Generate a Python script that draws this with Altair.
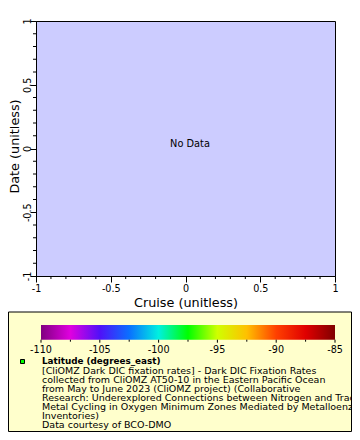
import altair as alt
import pandas as pd

FONT = "DejaVu Sans"

# ---- data ----
axis_major = [-1, -0.5, 0, 0.5, 1]
axis_minor = [-0.9, -0.8, -0.7, -0.6, -0.4, -0.3, -0.2, -0.1,
              0.1, 0.2, 0.3, 0.4, 0.6, 0.7, 0.8, 0.9]
no_data_label = ["No Data"]
cbar_major = [-110, -105, -100, -95, -90, -85]
cbar_labels = ["-110", "-105", "-100", "-95", "-90", "-85"]
cbar_minor = [-107.5, -102.5, -97.5, -92.5, -87.5]
cbar_stop_values = [-110, -107.5, -105, -102.5, -100, -97.5, -95, -92.5, -90, -87.5, -85]
cbar_stop_colors = ["#800080", "#e000e0", "#5010f8", "#0a70ff", "#00f0e0", "#00ff00",
                    "#d0ff00", "#ffc000", "#ff4000", "#e00000", "#800000"]
legend_title = "Latitude (degrees_east)"
legend_lines = [
    "[CliOMZ Dark DIC fixation rates] - Dark DIC Fixation Rates",
    "collected from CliOMZ AT50-10 in the Eastern Pacific Ocean",
    "from May to June 2023 (CliOMZ project) (Collaborative",
    "Research: Underexplored Connections between Nitrogen and Trace",
    "Metal Cycling in Oxygen Minimum Zones Mediated by Metalloenzyme",
    "Inventories)",
    "Data courtesy of BCO-DMO",
]

W, H = 299, 255
main_scale = alt.Scale(domain=[-1, 1], nice=False, zero=False)
cmin, cmax = cbar_stop_values[0], cbar_stop_values[-1]
cbar_scale = alt.Scale(domain=[cmin, cmax], range=[5, 299], nice=False, zero=False)


def main_axis(title, **kw):
    return alt.Axis(
        title=title,
        values=axis_major,
        labelExpr="toString(datum.value)",
        tickSize=6,
        tickColor="black",
        tickWidth=1,
        domainColor="black",
        labelColor="black",
        labelFont=FONT,
        labelFontSize=9.6,
        labelFlush=False,
        labelOverlap=False,
        titleFont=FONT,
        titleFontSize=12.8,
        titleFontWeight="normal",
        titleColor="black",
        grid=False,
        **kw,
    )


df_main = pd.DataFrame({"x": [0.0], "y": [0.0], "label": no_data_label})

nodata = alt.Chart(df_main).mark_text(
    font=FONT, fontSize=9.8, color="black", baseline="alphabetic", dx=4.5, dy=-1.5
).encode(
    x=alt.X("x:Q", scale=main_scale,
            axis=main_axis("Cruise (unitless)", labelPadding=1, labelBaseline="top",
                           titleBaseline="alphabetic", titleY=30)),
    y=alt.Y("y:Q", scale=main_scale,
            axis=main_axis("Date (unitless)", labelAngle=270, labelAlign="center",
                           labelBaseline="alphabetic", labelPadding=0,
                           titleAngle=270, titleBaseline="alphabetic", titleX=-17.5,
                           titleY=125)),
    text="label:N",
)

df_minor = pd.DataFrame({"v": axis_minor})
x_minor = alt.Chart(df_minor).mark_rule(color="black", strokeWidth=1).encode(
    x=alt.X("v:Q", scale=main_scale, axis=None),
    y=alt.value(H), y2=alt.value(H + 3),
)
y_minor = alt.Chart(df_minor).mark_rule(color="black", strokeWidth=1).encode(
    y=alt.Y("v:Q", scale=main_scale, axis=None),
    x=alt.value(0), x2=alt.value(-3),
)

one = pd.DataFrame({"a": [0]})

box = alt.Chart(one).mark_rect(fill="#ffffcc", stroke="black", strokeWidth=1).encode(
    x=alt.value(-27.5), x2=alt.value(315.5), y=alt.value(291), y2=alt.value(410.5)
)

gradient = alt.Gradient(
    gradient="linear",
    stops=[alt.GradientStop(color=c, offset=(v - cmin) / (cmax - cmin))
           for v, c in zip(cbar_stop_values, cbar_stop_colors)],
    x1=0, x2=1, y1=0, y2=0,
)

df_cbar = pd.DataFrame({"lo": [cmin], "hi": [cmax]})
cbar = alt.Chart(df_cbar).mark_rect(fill=gradient, strokeWidth=0).encode(
    x=alt.X("lo:Q", scale=cbar_scale, axis=None),
    x2="hi:Q",
    y=alt.value(304), y2=alt.value(318.7),
)

df_cmaj = pd.DataFrame({"v": cbar_major, "label": cbar_labels})
df_cmin = pd.DataFrame({"v": cbar_minor})
cbar_major_ticks = alt.Chart(df_cmaj).mark_rule(color="black", strokeWidth=1).encode(
    x=alt.X("v:Q", scale=cbar_scale, axis=None),
    y=alt.value(318.7), y2=alt.value(321.7),
)
cbar_minor_ticks = alt.Chart(df_cmin).mark_rule(color="black", strokeWidth=1).encode(
    x=alt.X("v:Q", scale=cbar_scale, axis=None),
    y=alt.value(318.7), y2=alt.value(320.7),
)
cbar_text = alt.Chart(df_cmaj).mark_text(
    font=FONT, fontSize=9.6, color="black", baseline="top", align="center"
).encode(
    x=alt.X("v:Q", scale=cbar_scale, axis=None),
    y=alt.value(323.8),
    text="label:N",
)

marker = alt.Chart(one).mark_rect(fill="#00ff00", stroke="black", strokeWidth=1).encode(
    x=alt.value(-15.5), x2=alt.value(-11.5), y=alt.value(338.5), y2=alt.value(342.5)
)

title_txt = alt.Chart(one).mark_text(
    text=legend_title, font=FONT, fontSize=8.8, fontWeight="bold", color="black",
    align="left", baseline="alphabetic"
).encode(x=alt.value(6), y=alt.value(342.7))

body_txt = alt.Chart(one).mark_text(
    text=legend_lines, font=FONT, fontSize=9.5, color="black", lineHeight=9,
    align="left", baseline="alphabetic"
).encode(x=alt.value(6), y=alt.value(353))

chart = alt.layer(
    nodata, x_minor, y_minor, box, cbar, cbar_major_ticks, cbar_minor_ticks, cbar_text,
    marker, title_txt, body_txt
).resolve_scale(
    x="independent", y="independent"
).properties(
    width=W, height=H,
    autosize=alt.AutoSizeParams(type="none"),
    padding={"left": 28, "top": 13, "right": 17, "bottom": 156},
    background="white",
).configure_view(fill="#ccccff", stroke="black", strokeWidth=1)

chart.save("out.html", embed_options={"renderer": "svg", "actions": False})
